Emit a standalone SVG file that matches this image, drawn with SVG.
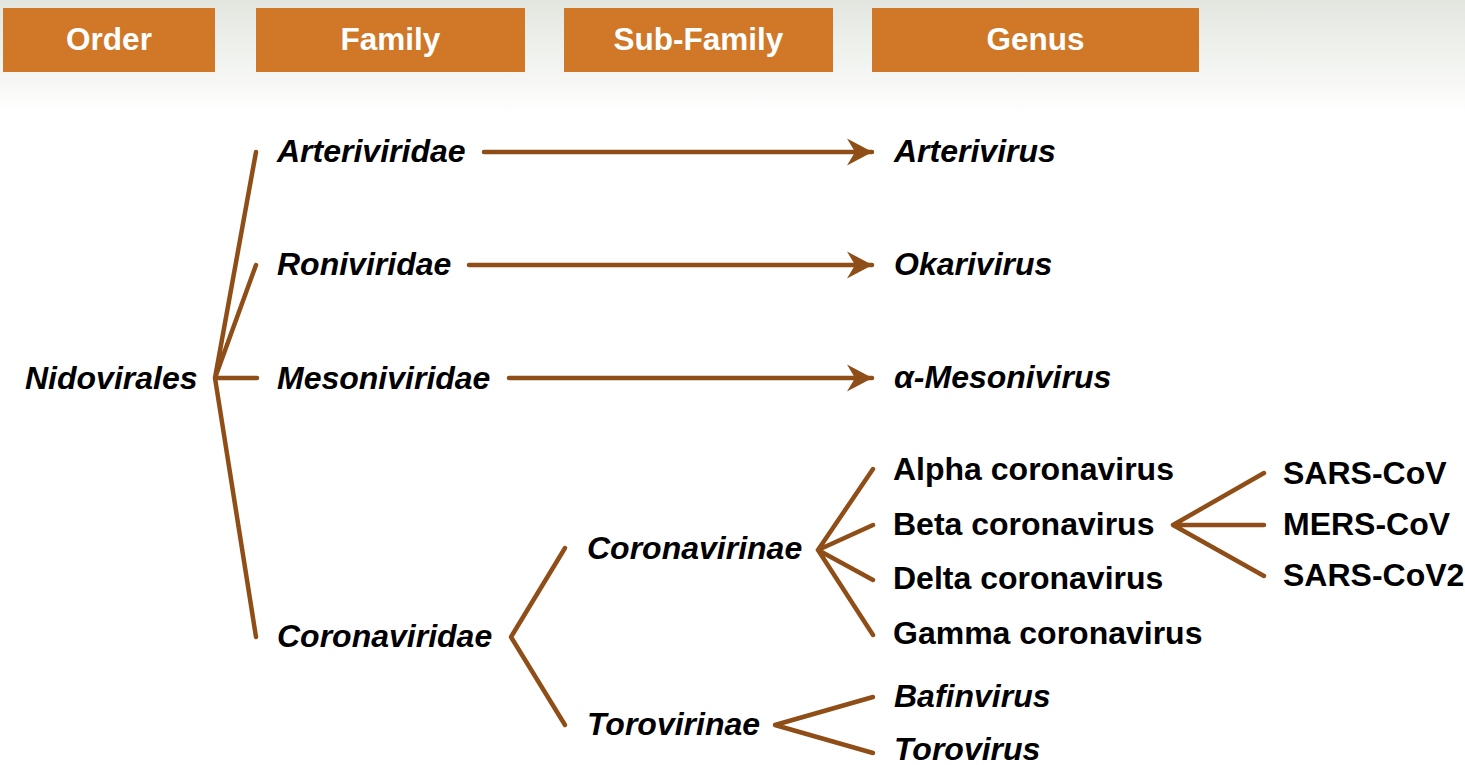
<svg xmlns="http://www.w3.org/2000/svg" width="1465" height="765" viewBox="0 0 1465 765">
<defs>
<linearGradient id="bg" x1="0" y1="0" x2="0" y2="1">
<stop offset="0" stop-color="#E2E6DF"/>
<stop offset="1" stop-color="#FFFFFF"/>
</linearGradient>
<marker id="arr" markerUnits="userSpaceOnUse" markerWidth="30" markerHeight="30" viewBox="0 0 30 30" refX="25" refY="15" orient="auto">
<path d="M0,1.5 L25.5,15 L0,28.5 L8,15 Z" fill="#8F4E17"/>
</marker>
<style>
.hdr{fill:#D07828}
.ht{font-family:"Liberation Sans",Arial,sans-serif;font-weight:bold;font-size:31.5px;fill:#FFFFFF;text-anchor:middle}
.t{font-family:"Liberation Sans",Arial,sans-serif;font-weight:bold;font-size:32px;fill:#000000}
.i{font-style:italic}
.ln{stroke:#8F4E17;stroke-width:4.5;stroke-linecap:round;stroke-linejoin:round;fill:none}
</style>
</defs>
<rect x="0" y="0" width="1465" height="115" fill="url(#bg)"/>
<rect x="0" y="115" width="1465" height="650" fill="#FFFFFF"/>

<g id="header-order"><rect class="hdr" x="3" y="8" width="212" height="64"/><text class="ht" x="109" y="50">Order</text></g>
<g id="header-family"><rect class="hdr" x="256" y="8" width="269" height="64"/><text class="ht" x="390.5" y="50">Family</text></g>
<g id="header-subfamily"><rect class="hdr" x="564" y="8" width="269" height="64"/><text class="ht" x="698.5" y="50">Sub-Family</text></g>
<g id="header-genus"><rect class="hdr" x="872" y="8" width="327" height="64"/><text class="ht" x="1035.5" y="50">Genus</text></g>

<g id="connectors">
<path class="ln" d="M256,152 L215,378 M256,265 L215,378 M257,378 L215,378 M256,637 L215,378"/>
<line class="ln" x1="484" y1="152" x2="872" y2="152" marker-end="url(#arr)"/>
<line class="ln" x1="469" y1="265" x2="872" y2="265" marker-end="url(#arr)"/>
<line class="ln" x1="509" y1="378" x2="872" y2="378" marker-end="url(#arr)"/>
<path class="ln" d="M565,548 L511,637 L565,725"/>
<path class="ln" d="M873,469 L818,550 L873,525 M818,550 L873,580 M818,550 L873,635"/>
<path class="ln" d="M873,697 L775,725 L873,753"/>
<path class="ln" d="M1264,473 L1173,525 L1264,576 M1173,525 L1264,525"/>
</g>

<g id="nidovirales"><text class="t i" x="25" y="389">Nidovirales</text></g>
<g id="arteriviridae"><text class="t i" x="277" y="162">Arteriviridae</text></g>
<g id="roniviridae"><text class="t i" x="277" y="275">Roniviridae</text></g>
<g id="mesoniviridae"><text class="t i" x="277" y="389">Mesoniviridae</text></g>
<g id="coronaviridae"><text class="t i" x="277" y="647">Coronaviridae</text></g>
<g id="coronavirinae"><text class="t i" x="587" y="559">Coronavirinae</text></g>
<g id="torovirinae"><text class="t i" x="587" y="735">Torovirinae</text></g>
<g id="arterivirus"><text class="t i" x="894" y="162">Arterivirus</text></g>
<g id="okarivirus"><text class="t i" x="894" y="275">Okarivirus</text></g>
<g id="mesonivirus"><text class="t i" x="894" y="388">α-Mesonivirus</text></g>
<g id="alpha"><text class="t" x="893" y="480">Alpha coronavirus</text></g>
<g id="beta"><text class="t" x="893" y="535">Beta coronavirus</text></g>
<g id="delta"><text class="t" x="893" y="589">Delta coronavirus</text></g>
<g id="gamma"><text class="t" x="893" y="644">Gamma coronavirus</text></g>
<g id="bafinvirus"><text class="t i" x="894" y="707">Bafinvirus</text></g>
<g id="torovirus"><text class="t i" x="894" y="760">Torovirus</text></g>
<g id="sars-cov"><text class="t" x="1283" y="484">SARS-CoV</text></g>
<g id="mers-cov"><text class="t" x="1283" y="535">MERS-CoV</text></g>
<g id="sars-cov2"><text class="t" x="1283" y="586">SARS-CoV2</text></g>
</svg>
